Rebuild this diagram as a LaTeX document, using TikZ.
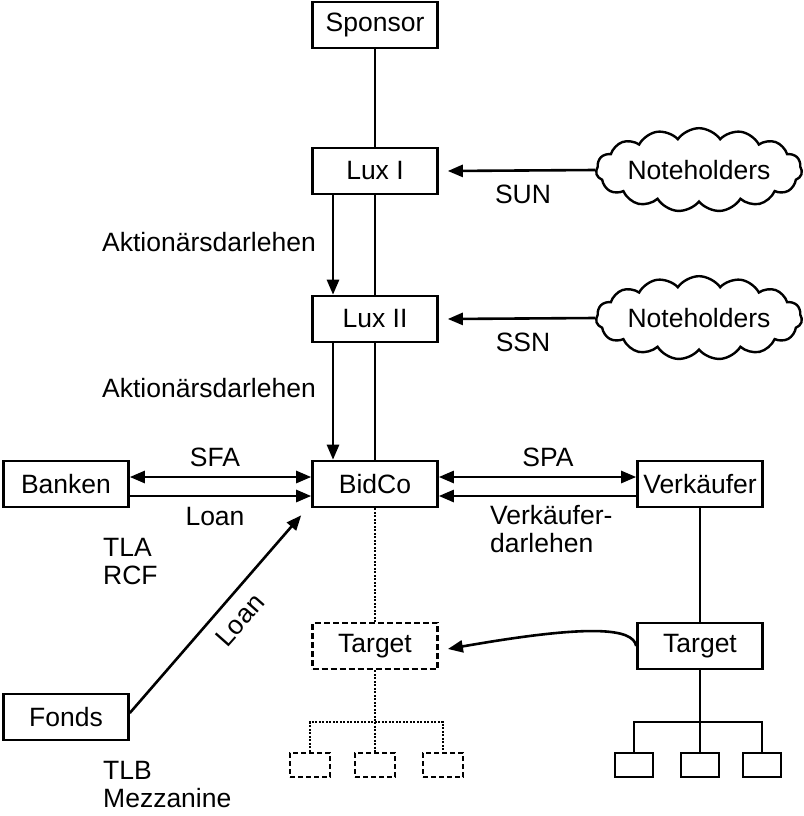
\documentclass[tikz,border=0pt]{standalone}
\usepackage{fontspec}
\setmainfont{Liberation Sans}
\usetikzlibrary{arrows.meta,shapes.symbols}

\begin{document}
\begin{tikzpicture}[x=1pt,y=-1pt,
  every node/.style={font=\fontsize{26.5}{28}\selectfont},
  box/.style={draw, line width=2.6pt, minimum width=125pt, minimum height=46pt, inner sep=0pt},
  dbox/.style={box, dash pattern=on 6pt off 3pt, line width=2.8pt},
  sub/.style={draw, line width=2.6pt, minimum width=38pt, minimum height=24pt, inner sep=0pt},
  dsub/.style={sub, dash pattern=on 5pt off 3pt, line width=2.8pt, minimum width=40pt},
  holder/.style={draw, cloud, cloud puffs=15, cloud puff arc=110, aspect=3.2,
    line width=2.4pt, minimum width=206pt, minimum height=72pt, inner sep=0pt},
  conn/.style={line width=2.6pt},
  flow/.style={conn, -{Triangle[length=15pt,width=12pt]}},
  both/.style={conn, {Triangle[length=15pt,width=12pt]}-{Triangle[length=15pt,width=12pt]}},
  dot/.style={line width=1.4pt, dash pattern=on 2pt off 1.5pt},
  lbl/.style={inner sep=0pt}
]
\useasboundingbox (0,0) rectangle (803,816);

% boxes
\node[box] (sponsor) at (375,25) {Sponsor};
\node[box] (lux1) at (375,171) {Lux I};
\node[box] (lux2) at (375,319) {Lux II};
\node[box] (bidco) at (375,484) {BidCo};
\node[box] (banken) at (66,484) {Banken};
\node[box] (verk) at (700,484) {Verkäufer};
\node[box] (fonds) at (66,717) {Fonds};
\node[dbox] (tgtA) at (375,646) {Target};
\node[box] (tgtB) at (700,646) {Target};
\node[holder] (nh1) at (699,170) {Noteholders};
\node[holder] (nh2) at (699,318) {Noteholders};

% subsidiaries
\node[dsub] (a1) at (310,765) {};
\node[dsub] (a2) at (375,765) {};
\node[dsub] (a3) at (443,765) {};
\node[sub] (b1) at (634,765) {};
\node[sub] (b2) at (700,765) {};
\node[sub] (b3) at (762,765) {};
\coordinate (jA) at (375,722);
\coordinate (jB) at (700,722);

% ownership chain
\draw[conn] (sponsor) -- (lux1);
\draw[conn] (lux1) -- (lux2);
\draw[conn] (lux2) -- (bidco);
\draw[flow] ([xshift=-42pt]lux1.south) -- ([xshift=-42pt]lux2.north);
\draw[flow] ([xshift=-42pt]lux2.south) -- ([xshift=-42pt]bidco.north);
\node[lbl] (ak1) at (209,242) {Aktionärsdarlehen};
\node[lbl] (ak2) at (209,388) {Aktionärsdarlehen};

% notes
\draw[flow] (nh1.west) -- ([xshift=9pt]lux1.east);
\draw[flow] (nh2.west) -- ([xshift=9pt]lux2.east);
\node[lbl] (sun) at (523,194) {SUN};
\node[lbl] (ssn) at (523,342) {SSN};

% bank financing
\draw[both] ([yshift=7pt]banken.east) -- ([yshift=7pt]bidco.west);
\draw[flow] ([yshift=-12pt]banken.east) -- ([yshift=-12pt]bidco.west);
\node[lbl] (sfa) at (215,457) {SFA};
\node[lbl] (loan1) at (215,517) {Loan};
\node[lbl, anchor=north west, align=left] (tla) at (103,538) {TLA\\RCF};

% fund financing
\draw[flow] ([yshift=4pt]fonds.east) -- ([xshift=-10pt,yshift=-7pt]bidco.south west);
\node[lbl, rotate=48.5] (loan2) at (240,620) {Loan};
\node[lbl, anchor=north west, align=left] (tlb) at (103,761) {TLB\\Mezzanine};

% purchase
\draw[both] ([yshift=7pt]bidco.east) -- ([yshift=7pt]verk.west);
\draw[flow] ([yshift=-12pt]verk.west) -- ([yshift=-12pt]bidco.east);
\node[lbl] (spa) at (548,457) {SPA};
\node[lbl, anchor=north west, align=left] (vd) at (490,505) {Verkäufer-\\darlehen};

% target groups
\draw[dot] (bidco) -- (tgtA);
\draw[dot] (tgtA) -- (jA);
\draw[dot] (a1.north) |- (jA) -| (a3.north);
\draw[dot] (jA) -- (a2.north);
\draw[conn] (verk) -- (tgtB);
\draw[conn] (tgtB) -- (jB);
\draw[conn] (b1.north) |- (jB) -| (b3.north);
\draw[conn] (jB) -- (b2.north);
\draw[flow] (tgtB.west) .. controls (633,628) and (590,624) .. ([xshift=9pt,yshift=-3pt]tgtA.east);
\end{tikzpicture}
\end{document}
